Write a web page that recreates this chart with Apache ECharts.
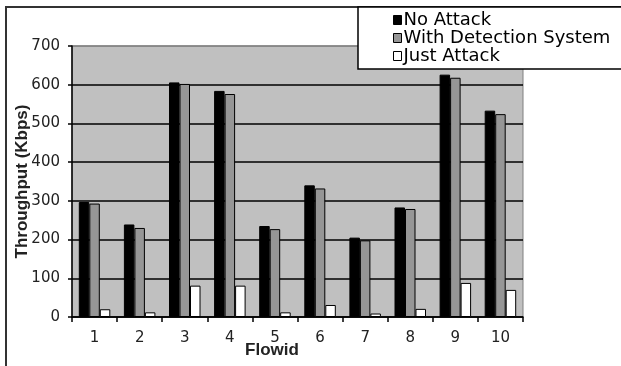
<!DOCTYPE html>
<html>
<head>
<meta charset="utf-8">
<script src="https://cdn.jsdelivr.net/npm/echarts@6/dist/echarts.min.js"></script>
<style>
  html, body { margin: 0; padding: 0; background: #fff; }
  #chart { width: 621px; height: 366px; }
</style>
</head>
<body>
<div id="chart"></div>
<script>
var flowIds = ['1', '2', '3', '4', '5', '6', '7', '8', '9', '10'];
var noAttack = [297, 239, 606, 584, 235, 340, 205, 283, 626, 533];
var withDetection = [293, 230, 602, 576, 227, 332, 198, 279, 618, 524];
var justAttack = [20, 12, 81, 81, 12, 31, 9, 21, 88, 70];

var myChart = echarts.init(document.getElementById('chart'));

function barSeries(name, data, color) {
    return {
        name: name,
        type: 'bar',
        data: data,
        barWidth: 10.5,
        barGap: '0%',
        itemStyle: {
            color: color,
            borderColor: '#000',
            borderWidth: 1
        }
    };
}

var option = {
    animation: false,
    backgroundColor: '#fff',
    graphic: [{
        type: 'rect',
        shape: { x: 6, y: 7, width: 700, height: 400 },
        style: { fill: 'none', stroke: '#333', lineWidth: 2 },
        z: 0
    }],
    legend: {
        orient: 'vertical',
        left: 358,
        top: 7,
        padding: [4, 12, 4, 35],
        backgroundColor: '#fff',
        borderColor: '#000',
        borderWidth: 1.5,
        borderRadius: 0,
        itemGap: 0,
        itemWidth: 8,
        itemHeight: 9,
        icon: 'rect',
        data: ['No Attack', 'With Detection System', 'Just Attack'],
        textStyle: {
            fontFamily: 'DejaVu Sans',
            fontSize: 18,
            lineHeight: 16.5,
            color: '#000',
            padding: [0, 0, 0, -3]
        },
        itemStyle: { borderColor: '#000', borderWidth: 1 }
    },
    grid: {
        left: 72,
        right: 98,
        top: 46,
        bottom: 49,
        show: true,
        backgroundColor: '#c0c0c0',
        borderColor: '#808080',
        borderWidth: 1
    },
    xAxis: {
        type: 'category',
        data: flowIds,
        name: 'Flowid',
        nameLocation: 'middle',
        nameGap: 25,
        nameMoveOverlap: false,
        nameTextStyle: {
            fontFamily: 'Liberation Sans',
            fontWeight: 'bold',
            fontSize: 17,
            color: '#222',
            padding: [0, 51, 0, 0]
        },
        axisLine: { lineStyle: { color: '#000', width: 1.5 } },
        axisTick: { show: true, length: 5, lineStyle: { color: '#000', width: 1.5 } },
        axisLabel: {
            fontFamily: 'DejaVu Sans',
            fontSize: 15,
            color: '#222',
            margin: 14
        }
    },
    yAxis: {
        type: 'value',
        min: 0,
        max: 700,
        interval: 100,
        name: 'Throughput (Kbps)',
        nameLocation: 'middle',
        nameGap: 41,
        nameMoveOverlap: false,
        nameTextStyle: {
            fontFamily: 'Liberation Sans',
            fontWeight: 'bold',
            fontSize: 17,
            color: '#222'
        },
        axisLine: { show: true, lineStyle: { color: '#000', width: 1.5 } },
        axisTick: { show: true, length: 4, lineStyle: { color: '#000', width: 1.5 } },
        axisLabel: {
            fontFamily: 'DejaVu Sans',
            fontSize: 15,
            color: '#222',
            margin: 12
        },
        splitLine: {
            lineStyle: {
                color: ['#000', '#000', '#000', '#000', '#000', '#000', '#000', '#808080'],
                width: 1.5
            }
        }
    },
    series: [
        barSeries('No Attack', noAttack, '#000'),
        barSeries('With Detection System', withDetection, '#969696'),
        barSeries('Just Attack', justAttack, '#fff')
    ]
};

myChart.setOption(option);
</script>
</body>
</html>
